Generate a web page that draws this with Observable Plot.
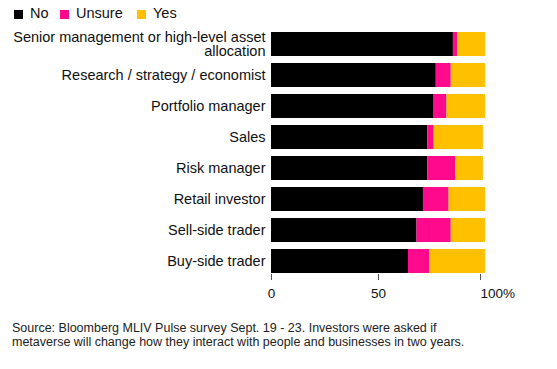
<!DOCTYPE html>
<html>
<head>
<meta charset="utf-8">
<script src="https://cdn.jsdelivr.net/npm/d3@7"></script>
<script src="https://cdn.jsdelivr.net/npm/@observablehq/plot@0.6"></script>
<style>
  html, body { margin: 0; padding: 0; background: #fff; }
  body { width: 557px; height: 369px; font-family: "Liberation Sans", Arial, sans-serif; color: #111; position: relative; overflow: hidden; }
  #legend { position: absolute; left: 0; top: 0; width: 557px; height: 24px; font-size: 14.5px; }
  #legend .sw { position: absolute; top: 10px; width: 9px; height: 9px; }
  #legend .lab { position: absolute; top: 5px; line-height: 16px; }
  #chart { position: absolute; left: 0; top: 24px; }
  #caption { position: absolute; left: 12px; top: 321px; font-size: 12.5px; line-height: 14px; color: #222; }
</style>
</head>
<body>
<div id="legend"></div>
<div id="chart"></div>
<div id="caption">Source: Bloomberg MLIV Pulse survey Sept. 19 - 23. Investors were asked if<br>metaverse will change how they interact with people and businesses in two years.</div>
<script>
const categories = ["Senior management or high-level asset allocation", "Research / strategy / economist", "Portfolio manager", "Sales", "Risk manager", "Retail investor", "Sell-side trader", "Buy-side trader"];
const categoryLabels = ["Senior management or high-level asset\nallocation", "Research / strategy / economist", "Portfolio manager", "Sales", "Risk manager", "Retail investor", "Sell-side trader", "Buy-side trader"];
const answers = ["No", "Unsure", "Yes"];
const colors = ["#000000", "#ff0a8c", "#ffc000"];
const no = [85, 77, 76, 73, 73, 71, 68, 64];
const unsure = [2, 7, 6, 3, 13, 12, 16, 10];
const yes = [13, 16, 18, 23, 13, 17, 16, 26];
const xTicks = [0, 50, 100];

const series = [no, unsure, yes];
const data = [];
answers.forEach((a, j) => categories.forEach((c, i) => data.push({category: c, answer: a, value: series[j][i]})));

// legend (HTML, above the SVG)
const legendSwatchX = [14, 60, 137];
const legend = document.getElementById("legend");
answers.forEach((a, j) => {
  const sw = document.createElement("span");
  sw.className = "sw";
  sw.style.left = legendSwatchX[j] + "px";
  sw.style.background = colors[j];
  legend.appendChild(sw);
  const lab = document.createElement("span");
  lab.className = "lab";
  lab.style.left = (legendSwatchX[j] + 16) + "px";
  lab.textContent = a;
  legend.appendChild(lab);
});

const labelOf = new Map(categories.map((c, i) => [c, categoryLabels[i]]));

const plot = Plot.plot({
  width: 557,
  height: 285,
  marginLeft: 271,
  marginRight: 72,
  marginTop: 7,
  marginBottom: 35,
  style: {fontFamily: "Liberation Sans, Arial, sans-serif", fontSize: "14px", color: "#111", background: "transparent"},
  x: {domain: [0, 100]},
  y: {domain: categories, paddingInner: 0.21, paddingOuter: 0},
  color: {domain: answers, range: colors},
  marks: [
    Plot.barX(data, Plot.stackX({y: "category", x: "value", fill: "answer", order: answers})),
    Plot.axisY({tickSize: 0, tickPadding: 6, label: null, tickFormat: d => labelOf.get(d), fontSize: 14.5}),
    Plot.axisX({ticks: xTicks.slice(0, 2), tickSize: 6, tickPadding: 8, label: null, fontSize: 13.5, stroke: "#555"}),
    Plot.axisX({ticks: xTicks.slice(2), tickSize: 6, tickPadding: 8, label: null, fontSize: 13.5, stroke: "#555", tickFormat: d => d + "%", textAnchor: "start", dx: -5})
  ]
});
document.getElementById("chart").appendChild(plot);
</script>
</body>
</html>
